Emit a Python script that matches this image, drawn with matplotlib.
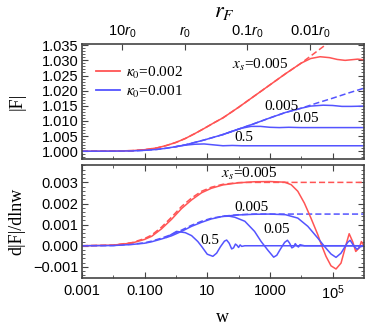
"""
Recreation of the |F| / d|F|/dlnw two-panel figure.
"""
import numpy as np
import matplotlib.pyplot as plt
import matplotlib.ticker as mticker
from matplotlib.lines import Line2D

RED  = "#ff5454"
BLUE = "#5454ff"
FRAME = "#444444"

plt.rcParams.update({"font.family": "Liberation Sans", "font.size": 10,
                     "mathtext.fontset": "custom",
                     "mathtext.rm": "Liberation Sans",
                     "mathtext.it": "Liberation Sans:italic"})

# ---------------- data: log10(w) and values ----------------
# top panel |F|
red_lw   = [-3.0, -2.0, -1.4, -1.0, -0.6, -0.3, 0.0, 0.3, 0.6, 0.9, 1.2, 1.5,
            2.0, 2.5, 3.0, 3.5, 4.0, 4.3, 4.6, 4.9, 5.15, 5.4, 5.6, 5.8, 6.0]
red_F    = [1.0000, 1.00005, 1.0002, 1.0005, 1.0011, 1.0019, 1.0029, 1.0042,
            1.0058, 1.0075, 1.0093, 1.0110, 1.0145, 1.0182, 1.0219, 1.0256,
            1.0291, 1.0306, 1.0312, 1.0309, 1.0303, 1.0300, 1.0302, 1.0304, 1.0302]
red_dash_lw = [-3.0, -2.0, -1.4, -1.0, -0.6, -0.3, 0.0, 0.3, 0.6, 0.9, 1.2, 1.5,
               2.0, 2.5, 3.0, 3.5, 4.0, 4.4, 4.8, 5.0]
red_dash_F  = [1.0000, 1.00005, 1.0002, 1.0005, 1.0011, 1.0019, 1.0029, 1.0042,
               1.0058, 1.0075, 1.0093, 1.0110, 1.0145, 1.0182, 1.0219, 1.0256,
               1.0291, 1.0322, 1.0353, 1.0369]

b005_lw = [-3.0, -2.0, -1.4, -1.0, -0.6, -0.3, 0.0, 0.3, 0.6, 0.9, 1.2, 1.5,
           2.0, 2.5, 3.0, 3.5, 4.0, 4.3, 4.7, 5.0, 5.3, 5.6, 6.0]
b005_F  = [1.0000, 1.00003, 1.0001, 1.0003, 1.0006, 1.0010, 1.0015, 1.0021,
           1.0029, 1.0037, 1.0046, 1.0055, 1.0073, 1.0091, 1.0110, 1.0128,
           1.0142, 1.0149, 1.0152, 1.0151, 1.0148, 1.0148, 1.0149]
b_dash_lw = [-3.0, -2.0, -1.4, -1.0, -0.6, -0.3, 0.0, 0.3, 0.6, 0.9, 1.2, 1.5,
             2.0, 2.5, 3.0, 3.5, 4.0, 4.5, 5.0, 5.5, 6.0]
b_dash_F  = [1.0000, 1.00003, 1.0001, 1.0003, 1.0006, 1.0010, 1.0015, 1.0021,
             1.0029, 1.0037, 1.0046, 1.0055, 1.0073, 1.0091, 1.0110, 1.0128,
             1.0142, 1.0159, 1.0175, 1.0192, 1.0208]
b05_lw  = [1.5, 1.8, 2.1, 2.4, 2.7, 3.0, 3.3, 3.6, 4.0, 6.0]
b05_F   = [1.0055, 1.0066, 1.0076, 1.0082, 1.0082, 1.0079, 1.0078, 1.0079, 1.0078, 1.0078]
b5_lw   = [0.0, 0.3, 0.6, 0.9, 1.2, 1.5, 1.8, 2.1, 6.0]
b5_F    = [1.0015, 1.0020, 1.0023, 1.0024, 1.0021, 1.0018, 1.0019, 1.0018, 1.0018]

# bottom panel d|F|/dlnw
red_d_lw = [-3.0, -2.0, -1.4, -1.0, -0.77, -0.46, -0.14, 0.18, 0.5, 0.82, 1.13, 1.5,
            2.0, 2.5, 3.0, 3.47, 3.68, 3.89, 4.10, 4.31, 4.53, 4.63, 4.79, 4.95,
            5.11, 5.27, 5.43, 5.53, 5.64, 5.74, 5.85, 5.92, 6.0]
red_d    = [0.0, 0.00003, 0.00013, 0.00030, 0.00045, 0.00080, 0.00125, 0.00176,
            0.00217, 0.00251, 0.00272, 0.00288, 0.00298, 0.00303, 0.00304, 0.00301,
            0.00289, 0.00258, 0.00202, 0.00131, 0.00052, 0.00010, -0.00050, -0.00095,
            -0.00110, -0.00082, 0.00005, 0.00057, 0.00020, -0.00027, -0.00010, 0.00020, 0.0]
red_dd_lw = [-3.0, -2.0, -1.4, -1.0, -0.77, -0.46, -0.14, 0.18, 0.5, 0.82, 1.13, 1.5,
             2.0, 2.5, 6.0]
red_dd    = [0.0, 0.00003, 0.00015, 0.00034, 0.00051, 0.00088, 0.00135, 0.00186,
             0.00226, 0.00258, 0.00277, 0.00291, 0.00299, 0.00300, 0.00300]

b005_d_lw = [-3.0, -2.0, -1.41, -1.0, -0.77, -0.46, -0.14, 0.18, 0.5, 0.82, 1.13, 1.5,
             2.0, 2.5, 3.0, 3.5, 3.89, 4.21, 4.53, 4.74, 4.95, 5.11, 5.27, 5.48,
             5.56, 5.69, 5.78, 5.88, 6.0]
b005_d    = [0.0, 0.00001, 0.00006, 0.00012, 0.00019, 0.00032, 0.00047, 0.00068,
             0.00092, 0.00111, 0.00127, 0.00139, 0.00146, 0.00149, 0.00150, 0.00147,
             0.00131, 0.00092, 0.00036, -0.00003, -0.00039, -0.00055, -0.00035, 0.00016,
             0.00026, -0.00003, -0.00017, -0.00005, 0.0]
b_dd_lw = [-3.0, -2.0, -1.41, -1.0, -0.77, -0.46, -0.14, 0.18, 0.5, 0.82, 1.13, 1.5,
           2.0, 2.5, 6.0]
b_dd    = [0.0, 0.00001, 0.00007, 0.00014, 0.00022, 0.00036, 0.00053, 0.00074,
           0.00097, 0.00116, 0.00130, 0.00140, 0.00147, 0.00150, 0.00150]
b05_d_lw = [1.5, 1.7, 1.88, 2.2, 2.51, 2.72, 2.94, 3.12, 3.22, 3.31, 3.47, 3.56,
            3.63, 3.70, 3.76, 3.81, 3.86, 3.91, 3.96, 4.1, 6.0]
b05_d    = [0.00139, 0.00140, 0.00135, 0.00116, 0.00068, 0.00020, -0.00022, -0.00054,
            -0.00045, -0.00022, 0.00016, 0.00026, 0.00012, -0.00010, -0.00005, 0.00010,
            0.0, -0.00006, 0.00005, 0.0, 0.0]
b5_d_lw = [-0.3, 0.02, 0.3, 0.5, 0.7, 0.82, 1.0, 1.18, 1.3, 1.42, 1.55, 1.62, 1.7,
           1.78, 1.84, 1.9, 1.95, 2.0, 2.05, 2.1, 2.2, 6.0]
b5_d    = [0.00040, 0.00068, 0.00062, 0.00048, 0.00020, -0.00003, -0.00040, -0.00050,
           -0.00035, -0.00005, 0.00022, 0.00027, 0.00012, -0.00015, -0.00010, 0.00008,
           0.00002, -0.00008, 0.00004, -0.00003, 0.0, 0.0]

legend_labels = [r"$\kappa_0$=0.002", r"$\kappa_0$=0.001"]
xtick_vals   = [1e-3, 1e-1, 1e1, 1e3, 1e5]
xtick_labels = ["0.001", "0.100", "10", "1000", r"$10^5$"]
rF_vals   = [10, 1, 0.1, 0.01]
rF_labels = [r"10$r_0$", r"$r_0$", r"0.1$r_0$", r"0.01$r_0$"]
W0 = 1.9   # w at which r_F = r_0


def W(lw):
    return 10.0 ** np.asarray(lw)


SERIF = dict(fontfamily="Liberation Serif", math_fontfamily="stix")

fig = plt.figure(figsize=(3.74, 3.26), dpi=100)
ax1 = fig.add_axes([0.219, 0.512, 0.754, 0.353])
ax2 = fig.add_axes([0.219, 0.147, 0.754, 0.347])

lw = 1.1
# top panel
ax1.plot(W(red_dash_lw), red_dash_F, color=RED, lw=lw, ls=(0, (4, 2)))
ax1.plot(W(b_dash_lw), b_dash_F, color=BLUE, lw=lw, ls=(0, (4, 2)))
ax1.plot(W(red_lw), red_F, color=RED, lw=lw)
ax1.plot(W(b005_lw), b005_F, color=BLUE, lw=lw)
ax1.plot(W(b05_lw), b05_F, color=BLUE, lw=lw)
ax1.plot(W(b5_lw), b5_F, color=BLUE, lw=lw)

# bottom panel
ax2.plot(W(red_dd_lw), red_dd, color=RED, lw=lw, ls=(0, (4, 2)))
ax2.plot(W(b_dd_lw), b_dd, color=BLUE, lw=lw, ls=(0, (4, 2)))
ax2.plot(W(red_d_lw), red_d, color=RED, lw=lw)
ax2.plot(W(b005_d_lw), b005_d, color=BLUE, lw=lw)
ax2.plot(W(b05_d_lw), b05_d, color=BLUE, lw=lw)
ax2.plot(W(b5_d_lw), b5_d, color=BLUE, lw=lw)

for ax in (ax1, ax2):
    ax.set_xscale("log")
    ax.set_xlim(1e-3, 1e6)
    ax.xaxis.set_major_locator(mticker.FixedLocator(xtick_vals))
    ax.xaxis.set_minor_locator(mticker.FixedLocator([1e-2, 1, 1e2, 1e4]))
    ax.xaxis.set_minor_formatter(mticker.NullFormatter())
    ax.tick_params(which="both", direction="in", right=True, top=True,
                   color=FRAME, labelsize=10.5, pad=2.5)
    ax.tick_params(which="major", length=4)
    ax.tick_params(which="minor", length=2)
    for s in ax.spines.values():
        s.set_color(FRAME); s.set_linewidth(1.2)

# top panel axes
ax1.set_ylim(0.9974, 1.0354)
ax1.yaxis.set_major_locator(mticker.MultipleLocator(0.005))
ax1.yaxis.set_minor_locator(mticker.MultipleLocator(0.001))
ax1.yaxis.set_major_formatter(mticker.FormatStrFormatter("%.3f"))
ax1.tick_params(axis="x", which="both", labelbottom=False, top=False)
ax1.set_ylabel("|F|", fontsize=13, fontfamily="Liberation Serif")
ax1.yaxis.set_label_coords(-0.2, 0.5)

axr = ax1.twiny()
axr.set_xscale("log")
axr.set_xlim(1e-3, 1e6)
axr.xaxis.set_major_locator(mticker.FixedLocator([W0 / r ** 2 for r in rF_vals]))
axr.xaxis.set_major_formatter(mticker.FixedFormatter(rF_labels))
axr.xaxis.set_minor_locator(mticker.NullLocator())
axr.tick_params(direction="in", length=4, color=FRAME, labelsize=10.5, pad=3)
for s in axr.spines.values():
    s.set_visible(False)
fig.text(224 / 374, 1 - 13 / 326, r"$r_F$", fontsize=16, ha="center", va="center",
         **SERIF)

leg = ax1.legend([Line2D([], [], color=RED, lw=1.3), Line2D([], [], color=BLUE, lw=1.3)],
                 legend_labels, loc="upper left", bbox_to_anchor=(0.0, 0.94),
                 frameon=False, handlelength=1.6, handletextpad=0.4,
                 labelspacing=0.2, fontsize=11)
for t in leg.get_texts():
    t.set_fontfamily("Liberation Serif")
    t.set_math_fontfamily("stix")

ax1.text(W(2.69), 1.0285, r"$x_s$=0.005", ha="center", va="center", fontsize=11, **SERIF)
ax1.text(W(3.36), 1.0149, "0.005", ha="center", va="center", fontsize=11, **SERIF)
ax1.text(W(4.15), 1.0109, "0.05", ha="center", va="center", fontsize=11, **SERIF)
ax1.text(W(2.18), 1.0046, "0.5", ha="center", va="center", fontsize=11, **SERIF)

# bottom panel axes
ax2.set_ylim(-0.00153, 0.003825)
ax2.yaxis.set_major_locator(mticker.MultipleLocator(0.001))
ax2.yaxis.set_minor_locator(mticker.MultipleLocator(0.0002))
ax2.yaxis.set_major_formatter(
    mticker.FuncFormatter(lambda v, p: f"{v:.3f}".replace("-", "\u2212")))
ax2.xaxis.set_major_formatter(mticker.FixedFormatter(xtick_labels))
ax2.tick_params(axis="x", pad=4)
ax2.set_ylabel("d|F|/dlnw", fontsize=13, fontfamily="Liberation Serif")
ax2.yaxis.set_label_coords(-0.2, 0.5)
ax2.set_xlabel("w", fontsize=13, fontfamily="Liberation Serif")
ax2.xaxis.set_label_coords(0.5, -0.27)

ax2.text(W(2.34), 0.00340, r"$x_s$=0.005", ha="center", va="center", fontsize=11, **SERIF)
ax2.text(W(2.42), 0.00182, "0.005", ha="center", va="center", fontsize=11, **SERIF)
ax2.text(W(3.23), 0.00078, "0.05", ha="center", va="center", fontsize=11, **SERIF)
ax2.text(W(1.07), 0.00027, "0.5", ha="center", va="center", fontsize=11, **SERIF)

fig.savefig("out.png", dpi=100, facecolor="white")
plt.close()
